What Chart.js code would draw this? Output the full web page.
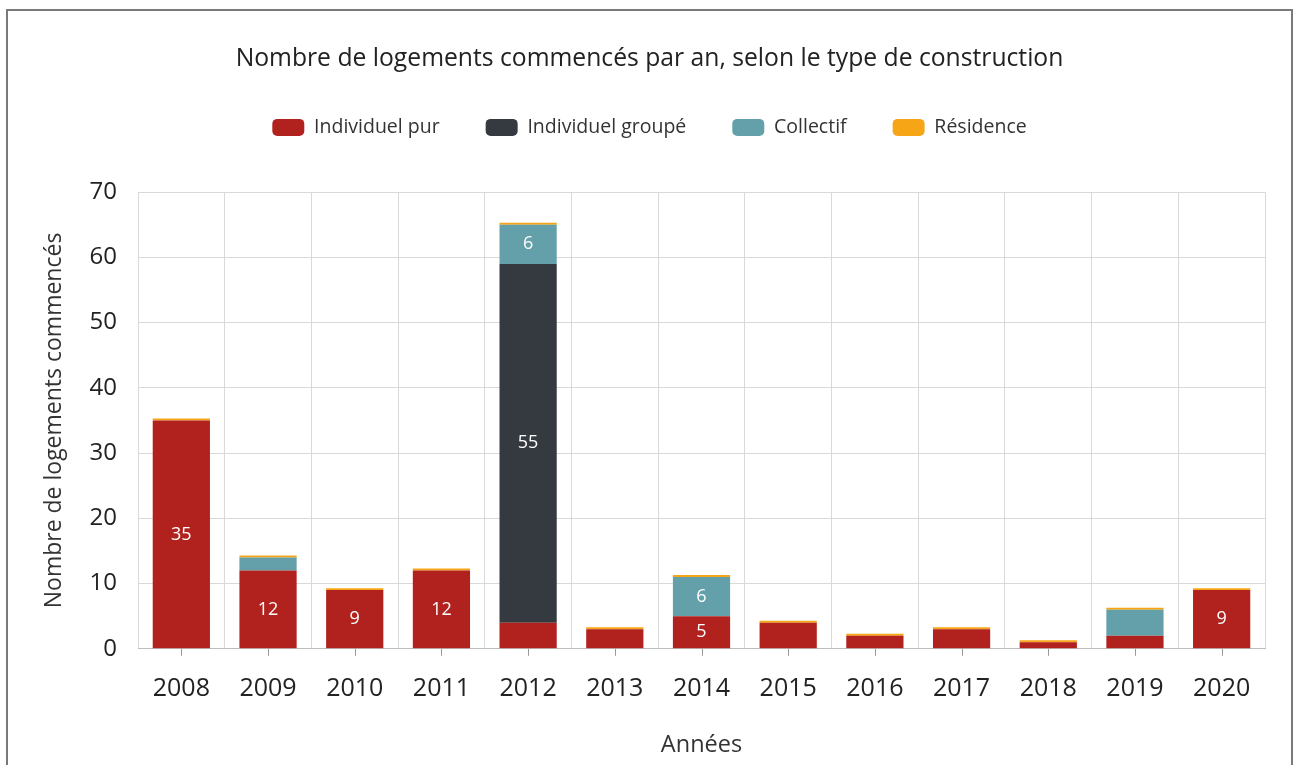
<!DOCTYPE html>
<html>
<head>
<meta charset="utf-8">
<script src="https://cdn.jsdelivr.net/npm/chart.js@4"></script>
<style>
  body { margin: 0; background: #fff; overflow: hidden; }
  #frame {
    position: absolute; left: 6px; top: 9px;
    width: 1283px; height: 800px;
    border: 2px solid #7a7a7a; border-bottom: none;
    background: #fff;
  }
  canvas { display: block; }
</style>
</head>
<body>
<div id="frame"><canvas id="chart" width="1283" height="756"></canvas></div>
<script>
// Years on the x axis
const years = ["2008", "2009", "2010", "2011", "2012", "2013", "2014", "2015", "2016", "2017", "2018", "2019", "2020"];

// Series values (housing starts per type)
const individuelPur    = [35, 12, 9, 12, 4, 3, 5, 4, 2, 3, 1, 2, 9];
const individuelGroupe = [0, 0, 0, 0, 55, 0, 0, 0, 0, 0, 0, 0, 0];
const collectif        = [0, 2, 0, 0, 6, 0, 6, 0, 0, 0, 0, 4, 0];
const residence        = [0.3, 0.3, 0.3, 0.3, 0.3, 0.3, 0.3, 0.3, 0.3, 0.3, 0.3, 0.3, 0.3];

const yTicks = [0, 10, 20, 30, 40, 50, 60, 70];

const FONT = "'Open Sans', 'Noto Sans', sans-serif";

// white value labels inside the bars (only the big segments)
const valueLabels = {
    id: 'valueLabels',
    afterDatasetsDraw(chart) {
        const ctx = chart.ctx;
        ctx.save();
        ctx.fillStyle = '#ffffff';
        ctx.font = '18px ' + FONT;
        ctx.textAlign = 'center';
        ctx.textBaseline = 'middle';
        chart.data.datasets.forEach((ds, i) => {
            if (ds.label === 'Résidence') return;
            chart.getDatasetMeta(i).data.forEach((bar, j) => {
                const v = ds.data[j];
                if (v >= 5) {
                    ctx.fillText(String(v), bar.x, (bar.y + bar.base) / 2);
                }
            });
        });
        ctx.restore();
    }
};

// small tick marks under the x axis at each bar centre
const xTickMarks = {
    id: 'xTickMarks',
    afterDraw(chart) {
        const ctx = chart.ctx;
        const x = chart.scales.x;
        const bottom = chart.chartArea.bottom;
        ctx.save();
        ctx.strokeStyle = '#9a9a9a';
        ctx.lineWidth = 1;
        years.forEach((y, i) => {
            const px = Math.round(x.getPixelForValue(i)) + 0.5;
            ctx.beginPath();
            ctx.moveTo(px, bottom);
            ctx.lineTo(px, bottom + 7);
            ctx.stroke();
        });
        ctx.restore();
    }
};

// extra space under the legend
const legendGap = {
    id: 'legendGap',
    beforeInit(chart) {
        const fit = chart.legend.fit;
        chart.legend.fit = function () {
            fit.bind(chart.legend)();
            this.height += 45;
        };
    }
};

new Chart(document.getElementById('chart'), {
    type: 'bar',
    data: {
        labels: years,
        datasets: [
            { label: 'Individuel pur', data: individuelPur, backgroundColor: '#b1211d' },
            { label: 'Individuel groupé', data: individuelGroupe, backgroundColor: '#343a3f' },
            { label: 'Collectif', data: collectif, backgroundColor: '#63a0aa' },
            { label: 'Résidence', data: residence, backgroundColor: '#f5a516' }
        ]
    },
    options: {
        responsive: false,
        animation: false,
        datasets: {
            bar: { barPercentage: 0.66, categoryPercentage: 1.0 }
        },
        layout: { padding: { left: 26, right: 26, top: 0, bottom: 8 } },
        plugins: {
            title: {
                display: true,
                text: 'Nombre de logements commencés par an, selon le type de construction',
                color: '#222',
                font: { family: FONT, size: 24.7, weight: 'normal' },
                padding: { top: 33, bottom: -2 }
            },
            legend: {
                labels: {
                    color: '#333',
                    font: { family: FONT, size: 19.5 },
                    boxWidth: 32,
                    boxHeight: 17,
                    useBorderRadius: true,
                    borderRadius: 5,
                    padding: 46
                }
            },
            tooltip: { enabled: false }
        },
        scales: {
            x: {
                stacked: true,
                grid: { color: '#d9d9d9', offset: true, drawTicks: false },
                border: { color: '#bdbdbd' },
                ticks: { color: '#222', font: { family: FONT, size: 25 }, padding: 25 },
                title: {
                    display: true, text: 'Années', color: '#333',
                    font: { family: FONT, size: 23.5 }, padding: { top: 2, bottom: 0 }
                }
            },
            y: {
                stacked: true,
                min: 0, max: 70,
                afterBuildTicks(axis) { axis.ticks = yTicks.map(v => ({ value: v })); },
                afterFit(axis) { axis.width = 104; },
                grid: { color: '#d9d9d9', drawTicks: false },
                border: { display: false },
                ticks: { color: '#222', font: { family: FONT, size: 24 }, padding: 21 },
                title: {
                    display: true, text: 'Nombre de logements commencés', color: '#333',
                    font: { family: FONT, size: 23 }, padding: { top: 7, bottom: 0 }
                }
            }
        }
    },
    plugins: [valueLabels, xTickMarks, legendGap]
});
</script>
</body>
</html>
